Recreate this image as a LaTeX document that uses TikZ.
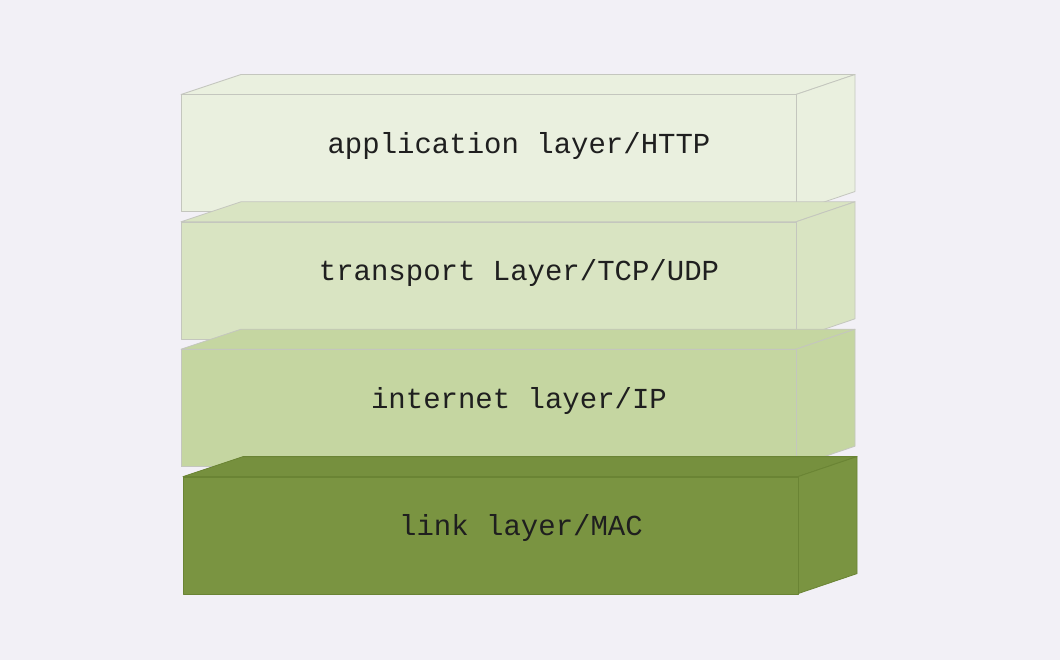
\documentclass[tikz,border=0pt]{standalone}
\usepackage{fontspec}
\setmonofont{Liberation Mono}
\definecolor{bgcol}{HTML}{F2F0F6}
\definecolor{appfill}{HTML}{EAF0DF}
\definecolor{tranfill}{HTML}{D9E4C2}
\definecolor{inetfill}{HTML}{C5D6A1}
\definecolor{linkfill}{HTML}{7A9441}
\definecolor{linktop}{HTML}{76903E}
\definecolor{lightedge}{HTML}{C4C6BE}
\definecolor{linkedge}{HTML}{6A8434}
\tikzset{
  face/.style={line width=0.8pt, line join=round},
  layertext/.style={font=\ttfamily\fontsize{29}{31}\selectfont, anchor=base, text=black!88},
  pics/layer/.style n args={4}{code={
    % top and side of the slab
    \filldraw[fill=#2, draw=#3, face] (0,0) -- (60,-20) -- (674,-20) -- (615,0) -- cycle;
    \filldraw[fill=#1, draw=#3, face] (615,0) -- (674,-20) -- (674,97) -- (615,117) -- cycle;
    \node[fill=#1, draw=#3, face, anchor=north west, inner sep=0pt,
          minimum width=615pt, minimum height=117pt] (-front) at (0,0) {};
    \node[layertext] (-label) at (338,59) {#4};
  }}
}
\begin{document}
\begin{tikzpicture}[x=1pt, y=-1pt]
  \fill[bgcol] (0,0) rectangle (1060,660);
  \useasboundingbox (0,0) rectangle (1060,660);
  \pic (app)  at (181,94.5)  {layer={appfill}{appfill}{lightedge}{application layer/HTTP}};
  \pic (tran) at (181,221.8) {layer={tranfill}{tranfill}{lightedge}{transport Layer/TCP/UDP}};
  \pic (inet) at (181,349.2) {layer={inetfill}{inetfill}{lightedge}{internet layer/IP}};
  \pic (link) at (183,476.6) {layer={linkfill}{linktop}{linkedge}{link layer/MAC}};
\end{tikzpicture}
\end{document}
